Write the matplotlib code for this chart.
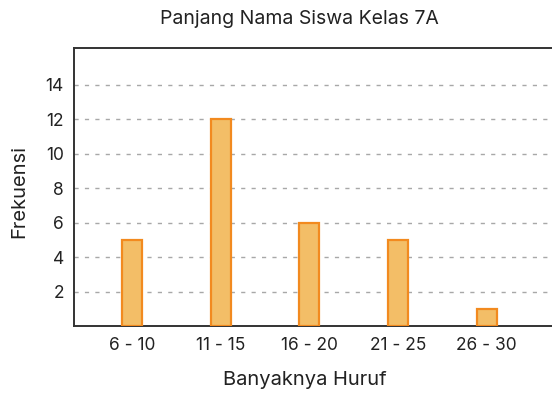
import matplotlib
matplotlib.use("Agg")
import matplotlib.pyplot as plt

# Data: name-length classes and their frequencies
categories = ["6 - 10", "11 - 15", "16 - 20", "21 - 25", "26 - 30"]
frequencies = [5, 12, 6, 5, 1]
y_ticks = [2, 4, 6, 8, 10, 12, 14]

title = "Panjang Nama Siswa Kelas 7A"
x_label = "Banyaknya Huruf"
y_label = "Frekuensi"

plt.rcParams["font.family"] = ["Inter", "DejaVu Sans"]

fig = plt.figure(figsize=(5.52, 3.95), dpi=100)
W, H = 552, 395
ax = fig.add_axes([73.5 / W, 1 - 326 / H, (W - 73.5) / W + 0.01, (326 - 47.5) / H])

x = list(range(len(categories)))
ax.bar(x, frequencies, width=0.225, color="#F3BE67", edgecolor="#F28A1F",
       linewidth=1.6, zorder=3)

ax.set_xlim(-0.663, 4.80)
ax.set_ylim(0, 16.16)
ax.set_xticks(x)
ax.set_xticklabels(categories)
ax.set_yticks(y_ticks)
ax.tick_params(axis="both", length=0, labelsize=12.5, colors="#222222")
ax.tick_params(axis="x", pad=8)
ax.tick_params(axis="y", pad=7)

ax.yaxis.grid(True, color="#a8a8a8", linestyle=(0, (3, 4.5)), linewidth=1.0, zorder=1)
ax.xaxis.grid(False)

for side in ["left", "bottom", "top"]:
    ax.spines[side].set_color("#333333")
    ax.spines[side].set_linewidth(1.4)
ax.spines["right"].set_visible(False)

fig.text(299 / W, 1 - 19 / H, title, ha="center", va="center",
         fontsize=14, color="#222222")
fig.text(305 / W, 1 - 380 / H, x_label, ha="center", va="center",
         fontsize=14.5, color="#222222")
fig.text(19 / W, 1 - 191 / H, y_label, ha="center", va="center",
         rotation=90, fontsize=14.5, color="#222222")

fig.savefig("out.png", dpi=100)
